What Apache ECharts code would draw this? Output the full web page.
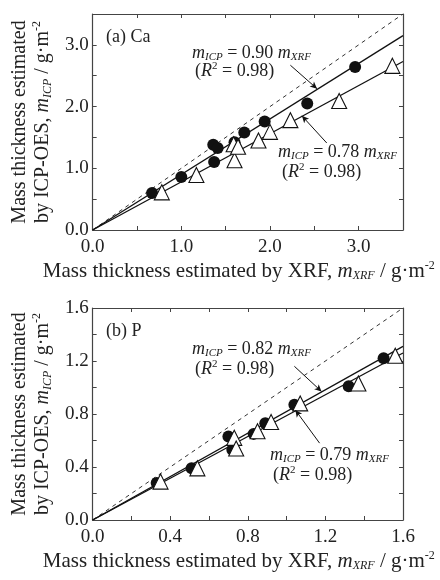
<!DOCTYPE html>
<html>
<head>
<meta charset="utf-8">
<script src="https://cdn.jsdelivr.net/npm/echarts@6/dist/echarts.min.js"></script>
<style>
  html, body { margin: 0; padding: 0; background: #fff; }
  #chart { width: 440px; height: 580px; }
</style>
</head>
<body>
<div id="chart"></div>
<script>
// (a) Ca : XRF vs ICP-OES mass thickness
const caXrfCircle = [0.67, 1.00, 1.37, 1.36, 1.41, 1.60, 1.71, 1.94, 2.42, 2.96]
const caIcpCircle = [0.60, 0.86, 1.10, 1.38, 1.33, 1.42, 1.58, 1.76, 2.05, 2.64]
const caXrfTri = [0.78, 1.17, 1.60, 1.59, 1.64, 1.87, 2.00, 2.23, 2.78, 3.38]
const caIcpTri = [0.61, 0.89, 1.13, 1.39, 1.35, 1.45, 1.59, 1.78, 2.09, 2.66]
const caOneToOne = [[0, 0], [3.5, 3.5]]
const caFitCircle = [[0, 0], [3.5, 3.15]] // 0.90
const caFitTri = [[0, 0], [3.5, 2.73]] // 0.78
const caTicks = ['0.0', '1.0', '2.0', '3.0']

// (b) P
const pXrfCircle = [0.33, 0.51, 0.70, 0.72, 0.83, 0.89, 1.04, 1.32, 1.50]
const pIcpCircle = [0.28, 0.39, 0.63, 0.53, 0.65, 0.73, 0.87, 1.01, 1.22]
const pXrfTri = [0.35, 0.54, 0.73, 0.74, 0.85, 0.92, 1.07, 1.37, 1.56]
const pIcpTri = [0.29, 0.39, 0.62, 0.54, 0.67, 0.74, 0.88, 1.03, 1.24]
const pOneToOne = [[0, 0], [1.6, 1.6]]
const pFitCircle = [[0, 0], [1.6, 1.31]] // 0.82
const pFitTri = [[0, 0], [1.6, 1.26]] // 0.79
const pTicks = ['0.0', '0.4', '0.8', '1.2', '1.6']

const FONT = '"Liberation Serif", "DejaVu Serif", serif'
const INK = '#222'
const AXIS = '#444'

const zip = (xs, ys) => xs.map((x, i) => [x, ys[i]])

function richAxis(size, lh) {
  return {
    a: { fontFamily: FONT, fontSize: size, color: INK, lineHeight: lh },
    m: { fontFamily: FONT, fontSize: size, fontStyle: 'italic', color: INK, lineHeight: lh },
    s: { fontFamily: FONT, fontSize: 12, fontStyle: 'italic', color: INK, verticalAlign: 'bottom', lineHeight: lh },
    sup: { fontFamily: FONT, fontSize: 12, color: INK, verticalAlign: 'top', lineHeight: lh }
  }
}

function xAxisPair(gridIndex, max, interval, ticks, withName) {
  const common = {
    gridIndex,
    type: 'value',
    min: 0,
    max,
    interval,
    splitLine: { show: false },
    axisLine: { show: true, onZero: false, lineStyle: { color: AXIS, width: 1.2 } },
    axisTick: { show: true, inside: true, length: 4, lineStyle: { color: AXIS } }
  }
  return [
    Object.assign({}, common, {
      position: 'bottom',
      axisLabel: {
        interval: 0,
        margin: 8,
        fontFamily: FONT,
        fontSize: 19,
        color: INK,
        formatter: v => (ticks.includes(v.toFixed(1)) ? v.toFixed(1) : '')
      },
      name: withName,
      nameLocation: 'middle',
      nameGap: 30,
      nameTextStyle: { rich: richAxis(21, 22), padding: [0, 18, 0, 0] }
    }),
    Object.assign({}, common, { position: 'top', axisLabel: { show: false } })
  ]
}

function yAxisPair(gridIndex, max, interval, ticks, withName) {
  const common = {
    gridIndex,
    type: 'value',
    min: 0,
    max,
    interval,
    splitLine: { show: false },
    axisLine: { show: true, onZero: false, lineStyle: { color: AXIS, width: 1.2 } },
    axisTick: { show: true, inside: true, length: 4, lineStyle: { color: AXIS } }
  }
  return [
    Object.assign({}, common, {
      position: 'left',
      axisLabel: {
        interval: 0,
        margin: 4,
        fontFamily: FONT,
        fontSize: 19,
        color: INK,
        formatter: v => (ticks.includes(v.toFixed(1)) ? v.toFixed(1) : '')
      },
      name: withName,
      nameLocation: 'middle',
      nameRotate: 90,
      nameGap: 38,
      nameTextStyle: { rich: richAxis(20, 23), lineHeight: 23 }
    }),
    Object.assign({}, common, { position: 'right', axisLabel: { show: false } })
  ]
}

const xName = '{a|Mass thickness estimated by XRF, }{m|m}{s|XRF}{a| / g·m}{sup|-2}'
const yName = '{a|Mass thickness estimated}\n{a|by ICP-OES, }{m|m}{s|ICP}{a| / g·m}{sup|-2}'

function fitLine(data, xi, yi, dashed, arrow) {
  const s = {
    type: 'line',
    xAxisIndex: xi,
    yAxisIndex: yi,
    data,
    symbol: 'none',
    silent: true,
    z: 2,
    lineStyle: dashed
      ? { color: '#333', width: 1, type: [4, 4] }
      : { color: '#111', width: 1.3 }
  }
  if (arrow) {
    s.markLine = {
      silent: true,
      animation: false,
      symbol: ['none', 'arrow'],
      symbolSize: [5, 7],
      label: { show: false },
      lineStyle: { color: '#111', width: 1, type: 'solid' },
      data: [[{ coord: arrow[0] }, { coord: arrow[1] }]]
    }
  }
  return s
}

function scatter(data, xi, yi, tri) {
  return {
    type: 'scatter',
    xAxisIndex: xi,
    yAxisIndex: yi,
    data,
    symbol: tri ? 'triangle' : 'circle',
    symbolSize: tri ? 15 : 12,
    z: tri ? 4 : 3,
    itemStyle: tri
      ? { color: '#fff', borderColor: '#111', borderWidth: 1.1, opacity: 1 }
      : { color: '#111', opacity: 1 }
  }
}

const label = { fill: INK, fontFamily: FONT, fontSize: 18 }
const rich18 = {
  m: { fontFamily: FONT, fontSize: 18, fontStyle: 'italic', fill: INK, lineHeight: 20 },
  n: { fontFamily: FONT, fontSize: 18, fill: INK, lineHeight: 20 },
  s: { fontFamily: FONT, fontSize: 11, fontStyle: 'italic', fill: INK, verticalAlign: 'bottom', lineHeight: 20 },
  sup: { fontFamily: FONT, fontSize: 11, fill: INK, verticalAlign: 'top', lineHeight: 20 },
  r: { fontFamily: FONT, fontSize: 18, fontStyle: 'italic', fill: INK, lineHeight: 20 }
}
function eqText(x, y, k) {
  return {
    type: 'text', left: x, top: y, silent: true,
    style: Object.assign({}, label, {
      text: '{m|m}{s|ICP}{n| = ' + k + ' }{m|m}{s|XRF}',
      rich: rich18
    })
  }
}
function r2Text(x, y, r) {
  return {
    type: 'text', left: x, top: y, silent: true,
    style: Object.assign({}, label, {
      text: '{n|(}{r|R}{sup|2}{n| = ' + r + ')}',
      rich: rich18
    })
  }
}

const chart = echarts.init(document.getElementById('chart'), null, { renderer: 'canvas' })
chart.setOption({
  animation: false,
  backgroundColor: '#fff',
  grid: [
    { left: 92, top: 14, width: 311, height: 216 },
    { left: 92, top: 308, width: 311, height: 212 }
  ],
  xAxis: [
    ...xAxisPair(0, 3.5, 0.5, caTicks, xName),
    ...xAxisPair(1, 1.6, 0.2, pTicks, xName)
  ],
  yAxis: [
    ...yAxisPair(0, 3.5, 0.5, caTicks, yName),
    ...yAxisPair(1, 1.6, 0.2, pTicks, yName)
  ],
  series: [
    fitLine(caOneToOne, 0, 0, true),
    fitLine(caFitCircle, 0, 0, false, [[2.23, 2.67], [2.53, 2.29]]),
    fitLine(caFitTri, 0, 0, false, [[2.64, 1.41], [2.36, 1.85]]),
    scatter(zip(caXrfCircle, caIcpCircle), 0, 0, false),
    scatter(zip(caXrfTri, caIcpTri), 0, 0, true),

    fitLine(pOneToOne, 2, 2, true),
    fitLine(pFitCircle, 2, 2, false, [[1.04, 1.16], [1.18, 0.97]]),
    fitLine(pFitTri, 2, 2, false, [[1.17, 0.58], [1.045, 0.83]]),
    scatter(zip(pXrfCircle, pIcpCircle), 2, 2, false),
    scatter(zip(pXrfTri, pIcpTri), 2, 2, true)
  ],
  graphic: [
    { type: 'text', left: 106, top: 28, silent: true, style: Object.assign({}, label, { text: '(a) Ca' }) },
    eqText(192, 44, '0.90'),
    r2Text(195, 61, '0.98'),
    eqText(278, 143, '0.78'),
    r2Text(282, 162, '0.98'),

    { type: 'text', left: 106, top: 322, silent: true, style: Object.assign({}, label, { text: '(b) P' }) },
    eqText(192, 340, '0.82'),
    r2Text(195, 359, '0.98'),
    eqText(270, 446, '0.79'),
    r2Text(273, 465, '0.98')
  ]
})
</script>
</body>
</html>
